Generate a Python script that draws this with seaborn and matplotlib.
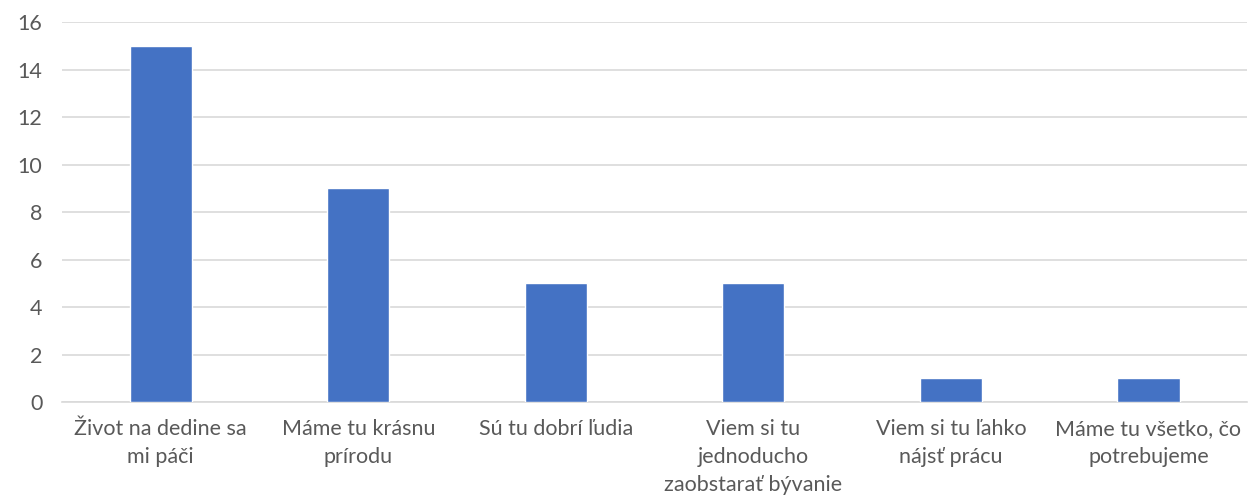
import pandas as pd
import seaborn as sns
import matplotlib.pyplot as plt

sns.set_style("white")
plt.rcParams["font.family"] = ["Lato", "DejaVu Sans"]

# data
categories = [
    "Život na dedine sa\nmi páči",
    "Máme tu krásnu\nprírodu",
    "Sú tu dobrí ľudia",
    "Viem si tu\njednoducho\nzaobstarať bývanie",
    "Viem si tu ľahko\nnájsť prácu",
    "Máme tu všetko, čo\npotrebujeme",
]
counts = [15, 9, 5, 5, 1, 1]
y_ticks = [0, 2, 4, 6, 8, 10, 12, 14, 16]

df = pd.DataFrame({"answer": categories, "count": counts})

fig = plt.figure(figsize=(12.49, 5.04), dpi=100)
ax = fig.add_axes([0.0496, 0.202, 0.949, 0.754])

sns.barplot(data=df, x="answer", y="count", color="#4472C4", saturation=1,
            width=0.315, ax=ax, zorder=3)

ax.set_ylim(0, 16)
ax.set_yticks(y_ticks)
ax.set_xlim(-0.5, len(categories) - 0.5)
ax.grid(axis="y", color="#D9D9D9", linewidth=1.2, zorder=0)
for s in ["top", "right", "left"]:
    ax.spines[s].set_visible(False)
ax.spines["bottom"].set_color("#D9D9D9")
ax.spines["bottom"].set_linewidth(1.2)
ax.set_xlabel("")
ax.set_ylabel("")
ax.tick_params(axis="both", length=0, labelsize=15.5, colors="#595959")
ax.tick_params(axis="x", pad=12)
ax.tick_params(axis="y", pad=14)
for lbl in ax.get_xticklabels():
    lbl.set_linespacing(1.5)
    lbl.set_verticalalignment("top")

fig.savefig("out.png", dpi=100)
